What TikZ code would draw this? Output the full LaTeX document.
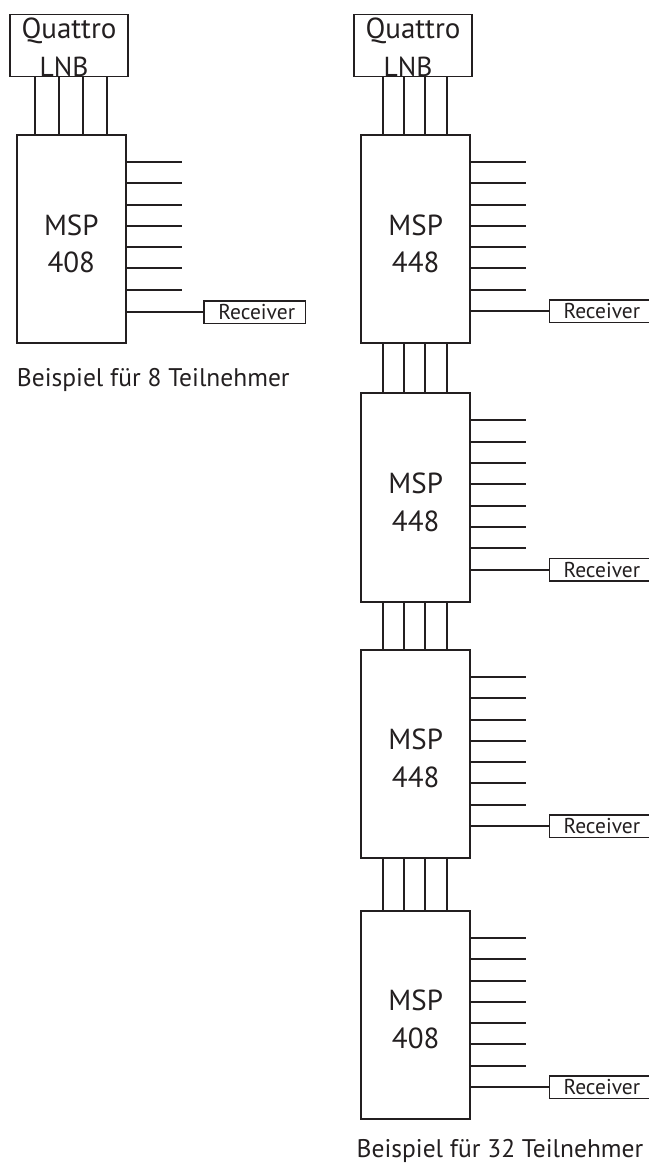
\documentclass[tikz,border=0pt]{standalone}
\usepackage{fontspec}
\setmainfont{PT Sans}
\usetikzlibrary{calc}
\definecolor{ink}{RGB}{35,31,32}
\begin{document}
\begin{tikzpicture}[x=1pt,y=-1pt,
  line width=1.9pt, draw=ink, text=ink,
  lnbbox/.style={draw=ink, line width=1.3pt, rectangle, inner sep=0pt, minimum width=118pt, minimum height=62pt},
  mspbox/.style={draw=ink, line width=2pt, rectangle, inner sep=0pt, minimum width=109.3pt, minimum height=208.3pt,
     label={[font=\fontsize{29}{37.7}\selectfont, align=center, yshift=-4.5pt, text=ink]center:#1}},
  rxbox/.style={draw=ink, line width=1.3pt, rectangle, inner sep=0pt, minimum width=101.3pt, minimum height=22.6pt,
     font=\fontsize{21.5}{22}\selectfont},
  lnbtext/.style={anchor=base, inner sep=0pt, font=\fontsize{29}{30}\selectfont},
  capt/.style={anchor=base, inner sep=0pt, font=\fontsize{25.5}{28}\selectfont},
  wire/.style={line width=1.9pt, draw=ink}
]
\useasboundingbox (0,0) rectangle (648,1164);

% ---------- left: 8 subscribers ----------
\node[lnbbox] (lnbL) at (69,45.7) {};
\node[lnbtext] (lnbLq) at (69,38.3) {Quattro};
\node[lnbtext, font=\fontsize{27.5}{30}\selectfont] (lnbLn) at (64,76.3) {LNB};
\node[mspbox={MSP\\408}] (mspL) at (71.3,239.2) {};
\foreach \x [count=\i] in {34.7,59,82.7,107} {
  \coordinate (cL\i) at (\x,0);
  \draw[wire] (lnbL.south -| cL\i) -- (mspL.north -| cL\i);
}
\foreach \d [count=\i] in {27.7,49.3,70.7,91.7,113.3,134.3,155.7} {
  \coordinate (sL\i) at ($(mspL.north east)+(54.7,\d)$);
  \draw[wire] (mspL.east |- sL\i) -- (sL\i);
}
\node[rxbox] (rxL) at (254.7,312.3) {\hspace*{4pt}Receiver};
\draw[wire] (mspL.east |- rxL.west) -- (rxL.west);
\node[capt] (capL) at (153.3,386.7) {Beispiel für 8 Teilnehmer};

% ---------- right: 32 subscribers ----------
\node[lnbbox] (lnbR) at (413,45.7) {};
\node[lnbtext] (lnbRq) at (413,38.3) {Quattro};
\node[lnbtext, font=\fontsize{27.5}{30}\selectfont] (lnbRn) at (408,76.3) {LNB};
\node[mspbox={MSP\\448}] (m1) at (415.7,239.2) {};
\node[mspbox={MSP\\448}] (m2) at (415.7,497.5) {};
\node[mspbox={MSP\\448}] (m3) at (415.7,754) {};
\node[mspbox={MSP\\408}] (m4) at (415.7,1015) {};
\foreach \x [count=\i] in {383.3,404,425.3,447} {
  \coordinate (cR\i) at (\x,0);
  \draw[wire] (lnbR.south -| cR\i) -- (m1.north -| cR\i);
  \draw[wire] (m1.south -| cR\i) -- (m2.north -| cR\i);
  \draw[wire] (m2.south -| cR\i) -- (m3.north -| cR\i);
  \draw[wire] (m3.south -| cR\i) -- (m4.north -| cR\i);
}
\foreach \m in {m1,m2,m3,m4} {
  \foreach \d [count=\i] in {27.7,49.3,70.7,91.7,113.3,134.3,155.7} {
    \coordinate (s\m\i) at ($(\m.north east)+(55,\d)$);
    \draw[wire] (\m.east |- s\m\i) -- (s\m\i);
  }
  \node[rxbox] (rx\m) at ($(\m.north east)+(128.5,177.3)$) {\hspace*{4pt}Receiver};
  \draw[wire] (\m.east |- rx\m.west) -- (rx\m.west);
}
\node[capt] (capR) at (500,1157.5) {Beispiel für 32 Teilnehmer};
\end{tikzpicture}
\end{document}
